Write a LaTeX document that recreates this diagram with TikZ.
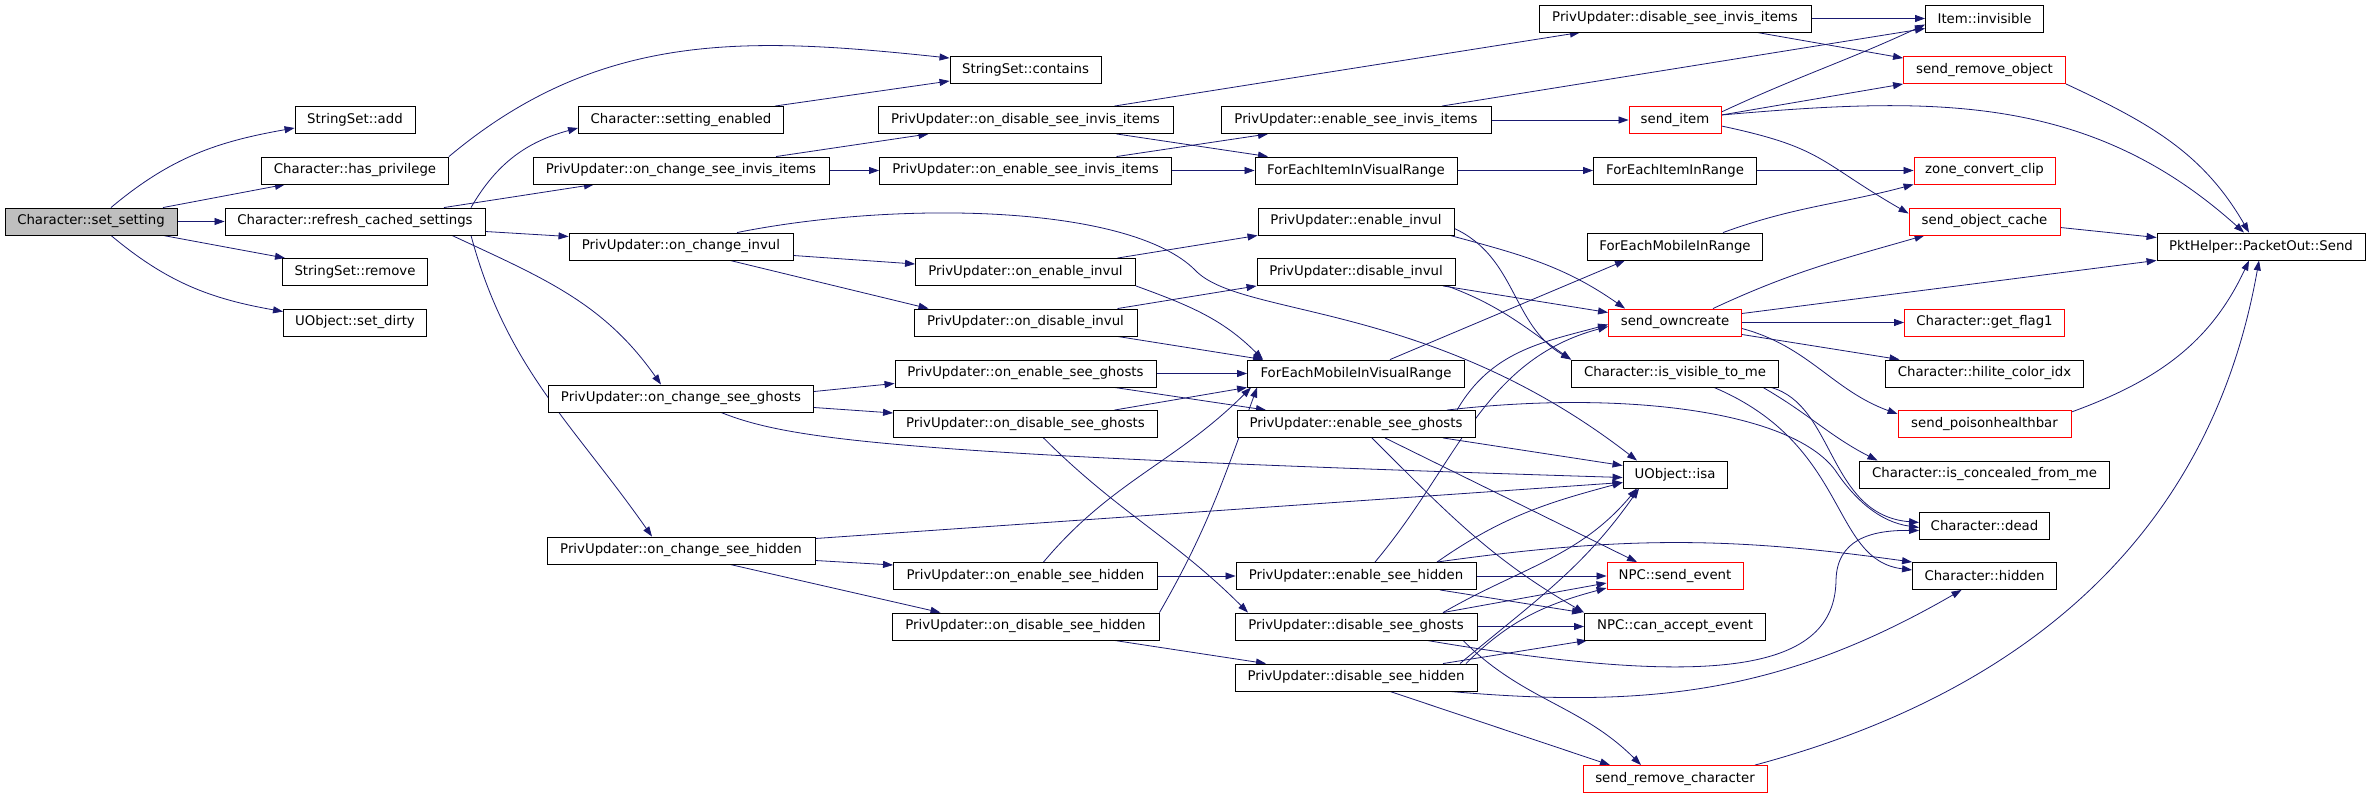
\documentclass[tikz,border=0pt]{standalone}
\usepackage{fontspec}
\setmainfont{DejaVu Sans}
\usepackage{xcolor}
\usepackage{tikz}
\usetikzlibrary{arrows, arrows.meta}
\usetikzlibrary{positioning}
\usetikzlibrary{calc}
\pgfdeclarelayer{bg}
\pgfsetlayers{bg,main}
\definecolor{callblue}{HTML}{191970}
\definecolor{rootgray}{HTML}{BFBFBF}
\tikzset{
	fn/.style={rectangle, draw=black, fill=white, line width=0.9pt, minimum height=27pt, inner sep=0pt, font=\fontsize{13.3}{16}\selectfont},
	fnroot/.style={fn, fill=rootgray},
	fnred/.style={fn, draw=red},
	call/.style={-{Triangle[length=10pt,width=7pt]}, draw=callblue, line width=0.8pt}
}

\begin{document}
\begin{tikzpicture}[x=1pt, y=1pt]
	\newcommand\rankZero{91}
	\newcommand\rankOne{355}
	\newcommand\rankTwo{681}
	\newcommand\rankThree{1025.5}
	\newcommand\rankFour{1356}
	\newcommand\rankFive{1675}
	\newcommand\rankSix{1984.5}
	\newcommand\rankSeven{2261}
	\useasboundingbox (0,0) rectangle (2371,-797);
	\node[fnroot, minimum width=172pt] (setset) at (\rankZero,-221.5) {Character::set\_setting};
	\node[fn, minimum width=120pt] (ssadd) at (\rankOne,-120) {StringSet::add};
	\node[fn, minimum width=187pt] (haspriv) at (\rankOne,-170.5) {Character::has\_privilege};
	\node[fn, minimum width=260pt] (refresh) at (\rankOne,-221.5) {Character::refresh\_cached\_settings};
	\node[fn, minimum width=145pt] (ssremove) at (\rankOne,-272) {StringSet::remove};
	\node[fn, minimum width=143pt] (setdirty) at (\rankOne,-322.5) {UObject::set\_dirty};
	\node[fn, minimum width=205pt] (setenabled) at (\rankTwo,-120) {Character::setting\_enabled};
	\node[fn, minimum width=296pt] (chinvis) at (\rankTwo,-170.5) {PrivUpdater::on\_change\_see\_invis\_items};
	\node[fn, minimum width=224pt] (chinvul) at (\rankTwo,-246.5) {PrivUpdater::on\_change\_invul};
	\node[fn, minimum width=265pt] (chghosts) at (\rankTwo,-398.5) {PrivUpdater::on\_change\_see\_ghosts};
	\node[fn, minimum width=268pt] (chhidden) at (\rankTwo,-550.5) {PrivUpdater::on\_change\_see\_hidden};
	\node[fn, minimum width=151pt] (contains) at (\rankThree,-70) {StringSet::contains};
	\node[fn, minimum width=295pt] (ondisinvis) at (\rankThree,-120) {PrivUpdater::on\_disable\_see\_invis\_items};
	\node[fn, minimum width=292pt] (onenainvis) at (\rankThree,-170.5) {PrivUpdater::on\_enable\_see\_invis\_items};
	\node[fn, minimum width=220pt] (onenainvul) at (\rankThree,-272) {PrivUpdater::on\_enable\_invul};
	\node[fn, minimum width=223pt] (ondisinvul) at (\rankThree,-322.5) {PrivUpdater::on\_disable\_invul};
	\node[fn, minimum width=261pt] (onenaghosts) at (\rankThree,-373.5) {PrivUpdater::on\_enable\_see\_ghosts};
	\node[fn, minimum width=264pt] (ondisghosts) at (\rankThree,-424) {PrivUpdater::on\_disable\_see\_ghosts};
	\node[fn, minimum width=264pt] (onenahidden) at (\rankThree,-576) {PrivUpdater::on\_enable\_see\_hidden};
	\node[fn, minimum width=267pt] (ondishidden) at (\rankThree,-626.5) {PrivUpdater::on\_disable\_see\_hidden};
	\node[fn, minimum width=270pt] (enainvis) at (\rankFour,-120) {PrivUpdater::enable\_see\_invis\_items};
	\node[fn, minimum width=202pt] (foritemvis) at (\rankFour,-170.5) {ForEachItemInVisualRange};
	\node[fn, minimum width=196pt] (enainvul) at (\rankFour,-221.5) {PrivUpdater::enable\_invul};
	\node[fn, minimum width=198pt] (disinvul) at (\rankFour,-272) {PrivUpdater::disable\_invul};
	\node[fn, minimum width=217pt] (formobvis) at (\rankFour,-373.5) {ForEachMobileInVisualRange};
	\node[fn, minimum width=238pt] (enaghosts) at (\rankFour,-424) {PrivUpdater::enable\_see\_ghosts};
	\node[fn, minimum width=240pt] (enahidden) at (\rankFour,-576) {PrivUpdater::enable\_see\_hidden};
	\node[fn, minimum width=242pt] (disghosts) at (\rankFour,-626.5) {PrivUpdater::disable\_see\_ghosts};
	\node[fn, minimum width=242pt] (dishidden) at (\rankFour,-677.5) {PrivUpdater::disable\_see\_hidden};
	\node[fn, minimum width=272pt] (disinvis) at (\rankFive,-18.5) {PrivUpdater::disable\_see\_invis\_items};
	\node[fnred, minimum width=92pt] (senditem) at (\rankFive,-120) {send\_item};
	\node[fn, minimum width=163pt] (foritem) at (\rankFive,-170.5) {ForEachItemInRange};
	\node[fn, minimum width=175pt] (formob) at (\rankFive,-246.5) {ForEachMobileInRange};
	\node[fnred, minimum width=133pt] (owncreate) at (\rankFive,-322.5) {send\_owncreate};
	\node[fn, minimum width=207pt] (visible) at (\rankFive,-373.5) {Character::is\_visible\_to\_me};
	\node[fn, minimum width=104pt] (isa) at (\rankFive,-474.5) {UObject::isa};
	\node[fnred, minimum width=136pt] (sendevent) at (\rankFive,-576) {NPC::send\_event};
	\node[fn, minimum width=181pt] (canaccept) at (\rankFive,-626.5) {NPC::can\_accept\_event};
	\node[fnred, minimum width=184pt] (removechar) at (\rankFive,-779) {send\_remove\_character};
	\node[fn, minimum width=118pt] (invisible) at (\rankSix,-18.5) {Item::invisible};
	\node[fnred, minimum width=162pt] (removeobj) at (\rankSix,-70) {send\_remove\_object};
	\node[fnred, minimum width=141pt] (zoneclip) at (\rankSix,-170.5) {zone\_convert\_clip};
	\node[fnred, minimum width=151pt] (objcache) at (\rankSix,-221.5) {send\_object\_cache};
	\node[fnred, minimum width=160pt] (getflag) at (\rankSix,-322.5) {Character::get\_flag1};
	\node[fn, minimum width=198pt] (hilite) at (\rankSix,-373.5) {Character::hilite\_color\_idx};
	\node[fnred, minimum width=173pt] (poison) at (\rankSix,-424) {send\_poisonhealthbar};
	\node[fn, minimum width=250pt] (concealed) at (\rankSix,-474.5) {Character::is\_concealed\_from\_me};
	\node[fn, minimum width=130pt] (dead) at (\rankSix,-525.5) {Character::dead};
	\node[fn, minimum width=144pt] (hidden) at (\rankSix,-576) {Character::hidden};
	\node[fn, minimum width=208pt] (send) at (\rankSeven,-246.5) {PktHelper::PacketOut::Send};
	\begin{pgfonlayer}{bg}
	\draw[call] ([xshift=20]setset.north) to[out=40,in=190] ([yshift=-8]ssadd.west);
	\draw[call] ([xshift=72]setset.north) -- ([xshift=-70]haspriv.south);
	\draw[call] (setset) -- (refresh);
	\draw[call] ([xshift=72]setset.south) -- ([xshift=-70]ssremove.north);
	\draw[call] ([xshift=20]setset.south) to[out=-40,in=170] ([yshift=-3]setdirty.north west);
	\draw[call] (haspriv.north east) to[out=40,in=174] ([yshift=-2]contains.north west);
	\draw[call] ([xshift=94]setenabled.north) -- ([yshift=-11]contains.west);
	\draw[call] ([xshift=116]refresh.north) to[out=60,in=195] ([yshift=-8]setenabled.west);
	\draw[call] ([xshift=89]refresh.north) -- ([xshift=-87]chinvis.south);
	\draw[call] ([yshift=-10]refresh.east) -- ([yshift=10]chinvul.west);
	\draw[call] ([xshift=97]refresh.south) to[out=-25,in=125] ([xshift=-20]chghosts.north);
	\draw[call] ([xshift=116]refresh.south) to[out=-75,in=125] ([xshift=-29]chhidden.north);
	\draw[call] ([xshift=95]chinvis.north) -- ([xshift=-97]ondisinvis.south);
	\draw[call] (chinvis) -- (onenainvis);
	\draw[call] ([yshift=-9]chinvul.east) -- ([yshift=8]onenainvul.west);
	\draw[call] ([xshift=49]chinvul.south) -- ([xshift=-97]ondisinvul.north);
	\draw[call] ([xshift=56]chinvul.north) .. controls (900,-200) and (1130,-205) .. (1195,-270) .. controls (1240,-318) and (1430,-300) .. ([xshift=-38]isa.north);
	\draw[call] ([xshift=89]ondisinvis.north) -- ([xshift=-95]disinvis.south);
	\draw[call] ([xshift=91]ondisinvis.south) -- ([xshift=-88]foritemvis.north);
	\draw[call] ([xshift=91]onenainvis.north) -- ([xshift=-88]enainvis.south);
	\draw[call] (onenainvis) -- (foritemvis);
	\draw[call] (enainvis) -- (senditem);
	\draw[call] ([xshift=86]enainvis.north) -- ([yshift=-10]invisible.west);
	\draw[call] (disinvis) -- (invisible);
	\draw[call] ([xshift=82]disinvis.south) -- ([yshift=-2]removeobj.north west);
	\draw[call] ([yshift=8]senditem.east) to[out=25,in=205] ([yshift=-6]invisible.west);
	\draw[call] ([yshift=5]senditem.east) -- ([yshift=-14]removeobj.west);
	\draw[call] ([yshift=5]senditem.east) to[out=5,in=138] ([xshift=-17]send.north);
	\draw[call] ([yshift=-6]senditem.east) to[out=-12,in=150,looseness=1.3] ([yshift=8]objcache.west);
	\draw[call] (foritemvis) -- (foritem);
	\draw[call] (foritem) -- (zoneclip);
	\draw[call] ([xshift=48]formob.north) to[out=20,in=195] (zoneclip.south west);
	\draw[call] ([xshift=34]formobvis.north) -- ([xshift=-50]formob.south);
	\draw[call] (removeobj.south east) to[out=-25,in=120] ([xshift=-12]send.north);
	\draw[call] ([yshift=-6]objcache.east) -- ([yshift=9]send.west);
	\draw[call] ([yshift=9]owncreate.east) -- (send.south west);
	\draw[call] ([yshift=12]poison.east) to[out=20,in=-115] ([xshift=-12]send.south);
	\draw[call] ([xshift=80]removechar.north) to[out=15,in=-100] ([xshift=-2]send.south);
	\draw[call] ([xshift=38]owncreate.north) to[out=25,in=196] ([xshift=-60]objcache.south);
	\draw[call] (owncreate) -- (getflag);
	\draw[call] ([yshift=-12]owncreate.east) -- ([xshift=-85]hilite.north);
	\draw[call] ([yshift=-6]owncreate.east) to[out=-15,in=160] ([yshift=10]poison.west);
	\draw[call] ([xshift=94]enainvul.south) to[out=-15,in=145] ([xshift=-50]owncreate.north);
	\draw[call] ([yshift=-7]enainvul.east) to[out=-25,in=150] (visible.north west);
	\draw[call] ([xshift=87]disinvul.south) -- ([yshift=10]owncreate.west);
	\draw[call] ([xshift=91]disinvul.south) to[out=-20,in=145] (visible.north west);
	\draw[call] ([xshift=92]onenainvul.north) -- (enainvul.south west);
	\draw[call] (onenainvul.south east) to[out=-20,in=135] ([xshift=-93]formobvis.north);
	\draw[call] ([xshift=92]ondisinvul.north) -- (disinvul.south west);
	\draw[call] ([xshift=92]ondisinvul.south) -- ([xshift=-93]formobvis.north);
	\draw[call] ([yshift=7]chghosts.east) -- ([yshift=-10]onenaghosts.west);
	\draw[call] ([yshift=-9]chghosts.east) -- ([yshift=11]ondisghosts.west);
	\draw[call] ([xshift=40]chghosts.south) .. controls (790,-440) and (900,-455) .. ([yshift=-3]isa.west);
	\draw[call] (onenaghosts) -- (formobvis);
	\draw[call] ([xshift=89]onenaghosts.south) -- ([xshift=-90]enaghosts.north);
	\draw[call] ([xshift=89]ondisghosts.north) -- (formobvis.south west);
	\draw[call] ([xshift=18]ondisghosts.south) to[out=-45,in=135] ([xshift=-108]disghosts.north);
	\draw[call] ([yshift=-10]chhidden.east) -- ([yshift=11]onenahidden.west);
	\draw[call] ([xshift=49]chhidden.south) -- ([xshift=-85]ondishidden.north);
	\draw[call] ([yshift=12]chhidden.east) -- ([yshift=-8]isa.west);
	\draw[call] (onenahidden) -- (enahidden);
	\draw[call] ([xshift=18]onenahidden.north) to[out=50,in=-135] ([xshift=4]formobvis.south west);
	\draw[call] (ondishidden.north east) to[out=60,in=-110] ([xshift=10]formobvis.south west);
	\draw[call] ([xshift=89]ondishidden.south) -- ([xshift=-90]dishidden.north);
	\draw[call] ([xshift=101]enaghosts.north) to[out=60,in=195] ([yshift=-2]owncreate.west);
	\draw[call] ([xshift=91]enaghosts.north) .. controls (1620,-390) and (1790,-410) .. (1835,-470) .. controls (1855,-500) and (1880,-522) .. ([yshift=-2]dead.west);
	\draw[call] ([xshift=87]enaghosts.south) -- ([yshift=9]isa.west);
	\draw[call] ([xshift=29]enaghosts.south) -- ([xshift=-38]sendevent.north);
	\draw[call] ([xshift=16]enaghosts.south) to[out=-45,in=150] (canaccept.north west);
	\draw[call] ([xshift=19]enahidden.north) to[out=50,in=195] ([yshift=-4]owncreate.west);
	\draw[call] ([xshift=81]enahidden.north) to[out=8,in=172] (hidden.north west);
	\draw[call] ([xshift=81]enahidden.north) to[out=35,in=195] ([yshift=-8]isa.west);
	\draw[call] (enahidden) -- (sendevent);
	\draw[call] ([xshift=84]enahidden.south) -- ([xshift=-2]canaccept.north west);
	\draw[call] ([xshift=87]disghosts.north) to[out=30,in=-130] ([xshift=-38]isa.south);
	\draw[call] ([xshift=87]disghosts.north) -- ([yshift=-7]sendevent.west);
	\draw[call] (disghosts) -- (canaccept);
	\draw[call] ([xshift=71]disghosts.south) .. controls (1720,-690) and (1835,-670) .. (1836,-580) .. controls (1837,-540) and (1870,-530) .. ([yshift=-5]dead.west);
	\draw[call] ([xshift=107]disghosts.south) to[out=-45,in=135] ([xshift=-34]removechar.north);
	\draw[call] ([xshift=104]dishidden.north) to[out=40,in=-125] ([xshift=-36]isa.south);
	\draw[call] ([xshift=110]dishidden.north) to[out=45,in=195] ([yshift=-12]sendevent.west);
	\draw[call] ([xshift=87]dishidden.north) -- ([xshift=3]canaccept.south west);
	\draw[call] ([xshift=94]dishidden.south) to[out=-5,in=-150] ([xshift=-23]hidden.south);
	\draw[call] ([xshift=34]dishidden.south) -- ([xshift=-65]removechar.north);
	\draw[call] ([xshift=88]visible.south) to[out=-30,in=153] ([xshift=-107]concealed.north);
	\draw[call] ([xshift=96]visible.south) .. controls (1835,-405) and (1828,-515) .. ([yshift=3]dead.west);
	\draw[call] ([xshift=39]visible.south) .. controls (1850,-445) and (1830,-560) .. ([yshift=6]hidden.west);
	\end{pgfonlayer}
\end{tikzpicture}
\end{document}
